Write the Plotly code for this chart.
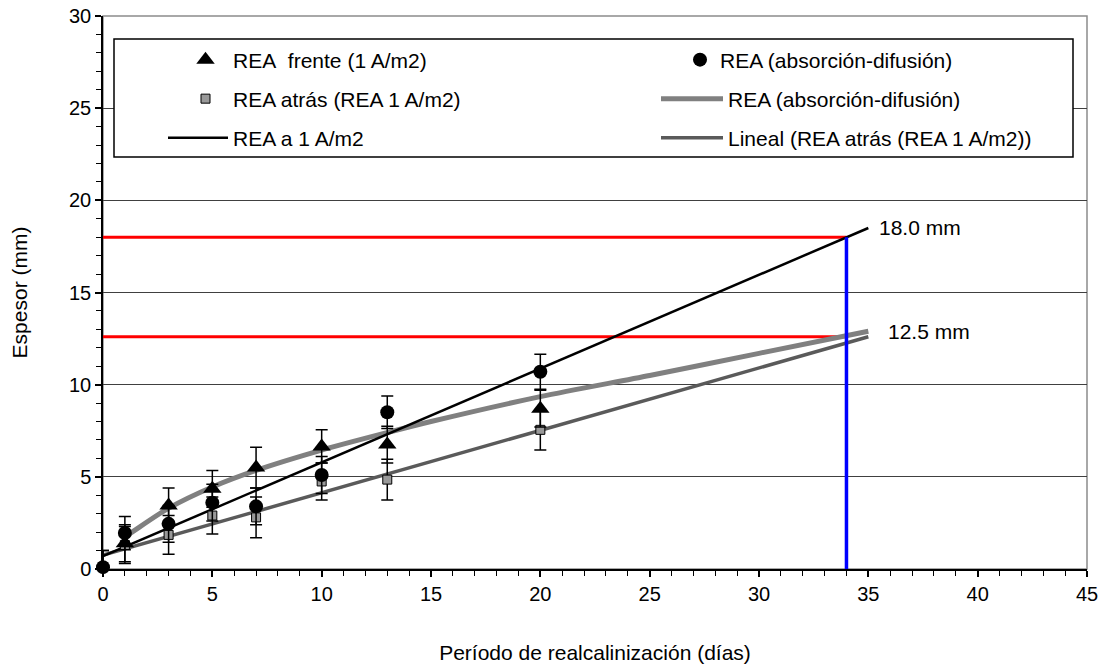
import plotly.graph_objects as go

# ---------------- data ----------------
days_tri = [1, 3, 5, 7, 10, 13, 20]
frente = [1.4, 3.45, 4.35, 5.5, 6.65, 6.75, 8.7]
frente_err = [1.0, 0.95, 1.0, 1.1, 0.9, 1.0, 1.0]

days = [0, 1, 3, 5, 7, 10, 13, 20]
absdif = [0.1, 1.95, 2.45, 3.6, 3.4, 5.1, 8.5, 10.7]
absdif_err = [0.9, 0.9, 1.0, 1.0, 1.0, 1.0, 0.88, 0.95]
atras = [0.1, 1.3, 1.85, 2.9, 2.8, 4.75, 4.85, 7.55]
atras_err = [0.9, 1.0, 1.05, 1.0, 1.1, 1.0, 1.1, 1.1]

curve_days = [0.9, 1, 3, 5, 7, 10, 13, 15, 20, 25, 30, 35]
curve_absdif = [1.7, 1.75, 3.3, 4.45, 5.35, 6.45, 7.4, 8.0, 9.35, 10.5, 11.7, 12.9]

line_days = [0, 35]
rea_1am2 = [0.7, 18.5]
lineal_atras = [0.75, 12.6]

target_day = [0, 34]
target_18 = [18.0, 18.0]
target_125 = [12.6, 12.6]
vline_day = [34, 34]
vline_y = [0, 18.0]

label_18 = "18.0 mm"
label_125 = "12.5 mm"

x_ticks = [0, 5, 10, 15, 20, 25, 30, 35, 40, 45]
y_ticks = [0, 5, 10, 15, 20, 25, 30]

FONT = "Liberation Sans, Arial, sans-serif"
FS_TICK = 20
FS = 21

# ---------------- layout helpers (page pixel coords) ----------------
W, H = 1100, 670
L, R, T, B = 103, 1087, 16, 569
def px_x(p):
    return (p - L) / (R - L)
def px_y(p):
    return (B - p) / (B - T)

fig = go.Figure()

# reference lines
fig.add_trace(go.Scatter(x=target_day, y=target_18, mode="lines",
                         line=dict(color="#ff0000", width=3), showlegend=False, hoverinfo="skip"))
fig.add_trace(go.Scatter(x=target_day, y=target_125, mode="lines",
                         line=dict(color="#ff0000", width=3), showlegend=False, hoverinfo="skip"))

# lines
fig.add_trace(go.Scatter(x=curve_days, y=curve_absdif, mode="lines",
                         name="REA (absorción-difusión)",
                         line=dict(color="#808080", width=5, shape="spline", smoothing=0.8),
                         legend="legend4"))
fig.add_trace(go.Scatter(x=line_days, y=lineal_atras, mode="lines",
                         name="Lineal (REA atrás (REA 1 A/m2))",
                         line=dict(color="#5a5a5a", width=3.5),
                         legend="legend6"))
fig.add_trace(go.Scatter(x=line_days, y=rea_1am2, mode="lines",
                         name="REA a 1 A/m2",
                         line=dict(color="#000000", width=2.5),
                         legend="legend5"))

fig.add_trace(go.Scatter(x=vline_day, y=vline_y, mode="lines",
                         line=dict(color="#0000ff", width=3.5), showlegend=False, hoverinfo="skip"))

# markers
fig.add_trace(go.Scatter(x=days, y=atras, mode="markers",
                         name="REA atrás (REA 1 A/m2)",
                         marker=dict(symbol="square", size=9, color="#999999",
                                     line=dict(color="#000000", width=1)),
                         error_y=dict(type="data", array=atras_err, color="#000000",
                                      thickness=1.5, width=6),
                         cliponaxis=False, legend="legend3"))
fig.add_trace(go.Scatter(x=days, y=absdif, mode="markers",
                         name="REA (absorción-difusión)",
                         marker=dict(symbol="circle", size=14, color="#000000"),
                         error_y=dict(type="data", array=absdif_err, color="#000000",
                                      thickness=1.5, width=6),
                         cliponaxis=False, legend="legend2"))
fig.add_trace(go.Scatter(x=days_tri, y=frente, mode="markers",
                         name="REA\u00a0 frente (1 A/m2)",
                         marker=dict(symbol="triangle-up", size=16, color="#000000"),
                         error_y=dict(type="data", array=frente_err, color="#000000",
                                      thickness=1.5, width=6),
                         cliponaxis=False, legend="legend"))

# annotations for values
fig.add_annotation(x=35.4, y=18.5, text=label_18, showarrow=False, xanchor="left",
                   yanchor="middle", font=dict(size=FS, family=FONT, color="black"))
fig.add_annotation(x=35.8, y=12.9, text=label_125, showarrow=False, xanchor="left",
                   yanchor="middle", font=dict(size=FS, family=FONT, color="black"))

def leg(xpx, ypx, itemwidth=30):
    return dict(x=px_x(xpx), y=px_y(ypx), xanchor="left", yanchor="middle",
                bgcolor="rgba(0,0,0,0)", borderwidth=0, itemwidth=itemwidth,
                font=dict(size=FS, family=FONT, color="black"), orientation="v")

fig.update_layout(
    width=W, height=H,
    margin=dict(l=L, r=W - R, t=T, b=H - B),
    plot_bgcolor="white", paper_bgcolor="white",
    font=dict(family=FONT, size=FS, color="black"),
    legend=leg(178, 60, itemwidth=45),
    legend2=leg(680, 60),
    legend3=leg(178, 99, itemwidth=45),
    legend4=leg(656, 99, itemwidth=62),
    legend5=leg(163, 138, itemwidth=60),
    legend6=leg(656, 138, itemwidth=62),
    shapes=[
        dict(type="rect", xref="paper", yref="paper", x0=0, x1=1, y0=0, y1=1,
             line=dict(color="#8c8c8c", width=1.5), layer="below"),
        dict(type="rect", xref="paper", yref="paper",
             x0=px_x(114), x1=px_x(1073), y0=px_y(157), y1=px_y(39),
             line=dict(color="#000000", width=1.5), fillcolor="white", layer="above"),
    ],
)

fig.update_xaxes(
    range=[0, 45], tickvals=x_ticks, ticks="outside", ticklen=6, tickwidth=1.5,
    tickcolor="black", showline=True, linecolor="black", linewidth=1.5,
    showgrid=False, zeroline=False, ticklabeloverflow="allow", automargin=False,
    minor=dict(dtick=1, ticks="outside", ticklen=5, tickcolor="black", tickwidth=1, showgrid=False),
    tickfont=dict(size=FS_TICK, family=FONT, color="black"),
    title=dict(text="Período de realcalinización (días)", standoff=42,
               font=dict(size=FS, family=FONT, color="black")),
)
fig.update_yaxes(
    range=[0, 30], tickvals=y_ticks, ticks="outside", ticklen=6, tickwidth=1.5,
    tickcolor="black", showline=True, linecolor="black", linewidth=1.5,
    showgrid=True, gridcolor="#404040", gridwidth=1, zeroline=False,
    ticklabeloverflow="allow", automargin=False,
    minor=dict(dtick=1, ticks="outside", ticklen=5, tickcolor="black", tickwidth=1, showgrid=False),
    tickfont=dict(size=FS_TICK, family=FONT, color="black"),
    title=dict(text="Espesor (mm)", standoff=36,
               font=dict(size=FS, family=FONT, color="black")),
)

# remove the default 8px page margin so the figure fills the 1100x670 window
fig.write_html("out.html",
               config={"displayModeBar": False},
               post_script="document.body.style.margin='0px';document.body.style.overflow='hidden';")
